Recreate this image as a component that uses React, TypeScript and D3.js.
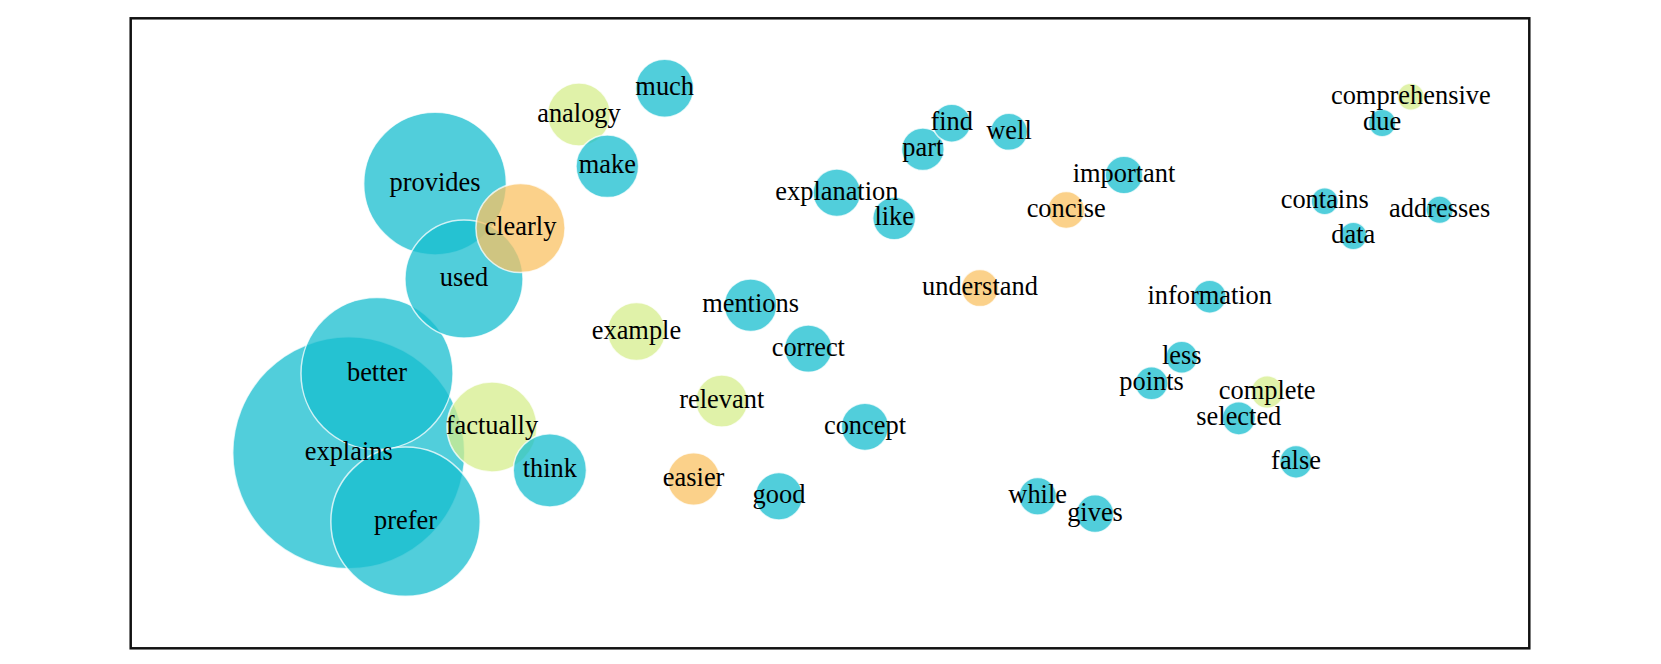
import React from "react";
import * as d3 from "d3";

// Words, their 2D position (percent of plot extent), weight (frequency-like) and group
const words = [
  "explains", "better", "prefer", "provides", "used", "factually", "clearly", "think",
  "analogy", "make", "much", "example", "mentions", "easier", "relevant", "explanation",
  "correct", "good", "concept", "like", "part", "find", "important", "while", "gives",
  "understand", "well", "concise", "selected", "information", "points", "false", "complete",
  "less", "due", "data", "addresses", "comprehensive", "contains",
];
const xs = [
  15.59, 17.61, 19.65, 21.76, 23.83, 25.83, 27.87, 29.97,
  32.05, 34.08, 38.18, 36.16, 44.32, 40.25, 42.26, 50.49,
  48.45, 46.35, 52.5, 54.59, 56.64, 58.7, 71.02, 64.85, 68.95,
  60.72, 62.8, 66.89, 79.23, 77.15, 72.99, 83.32, 81.26,
  75.15, 89.48, 87.42, 93.59, 91.53, 85.37,
];
const ys = [
  31.03, 43.62, 20.1, 73.75, 58.62, 35.13, 66.71, 28.25,
  84.73, 76.51, 88.89, 50.29, 54.46, 26.87, 39.25, 72.32,
  47.56, 24.13, 35.16, 68.25, 79.22, 83.35, 75.13, 24.13, 21.37,
  57.19, 81.98, 69.57, 36.51, 55.81, 42.06, 29.6, 40.68,
  46.19, 83.38, 65.44, 69.6, 87.54, 70.97,
];
const weights = [
  73.8, 31.7, 30.6, 27.9, 19.1, 11.1, 10.9, 7.35,
  5.44, 5.38, 4.61, 4.6, 3.8, 3.77, 3.71, 3.11,
  3.08, 3.08, 3.06, 2.51, 2.49, 1.98, 1.94, 1.94, 1.94,
  1.9, 1.88, 1.88, 1.51, 1.49, 1.49, 1.46, 1.44,
  1.4, 1.03, 1.03, 1.03, 1.0, 1.0,
];
// 0 = teal, 1 = light green, 2 = orange
const groups = [
  0, 0, 0, 0, 0, 1, 2, 0,
  1, 0, 0, 1, 0, 2, 1, 0,
  0, 0, 0, 0, 0, 0, 0, 0, 0,
  2, 0, 2, 0, 0, 0, 0, 1,
  0, 0, 0, 0, 1, 0,
];
const groupColors = ["#17becf", "#d6ee8c", "#f9c263"];

const W = 1661;
const H = 664;
const plot = { left: 130.7, right: 1529.3, top: 18.3, bottom: 648.3 };

export default function App() {
  const x = d3.scaleLinear().domain([0, 100]).range([plot.left, plot.right]);
  const y = d3.scaleLinear().domain([0, 100]).range([plot.bottom, plot.top]);
  const r = d3.scaleSqrt().domain([0, 1]).range([0, 13.5]);
  const color = d3.scaleOrdinal<number, string>().domain([0, 1, 2]).range(groupColors);

  const data = words.map((w, i) => ({
    word: w,
    x: xs[i],
    y: ys[i],
    weight: weights[i],
    group: groups[i],
  }));
  const ordered = [...data].sort((a, b) => b.weight - a.weight);
  const fontSize = 26.4;

  return (
    <svg
      width={W}
      height={H}
      style={{ position: "absolute", left: 0, top: 0, background: "#fff" }}
    >
      <g>
        {ordered.map((d) => (
          <circle
            key={"c-" + d.word}
            cx={x(d.x)}
            cy={y(d.y)}
            r={r(d.weight)}
            fill={color(d.group)}
            fillOpacity={0.75}
            stroke="#ffffff"
            strokeOpacity={0.75}
            strokeWidth={1.5}
          />
        ))}
      </g>
      <g
        fontFamily="'Liberation Serif', 'Times New Roman', serif"
        fontSize={fontSize}
        textAnchor="middle"
        fill="#000"
      >
        {ordered.map((d) => (
          <text key={"t-" + d.word} x={x(d.x)} y={y(d.y) + fontSize * 0.27}>
            {d.word}
          </text>
        ))}
      </g>
      <rect
        x={plot.left}
        y={plot.top}
        width={plot.right - plot.left}
        height={plot.bottom - plot.top}
        fill="none"
        stroke="#111"
        strokeWidth={2.5}
      />
    </svg>
  );
}
